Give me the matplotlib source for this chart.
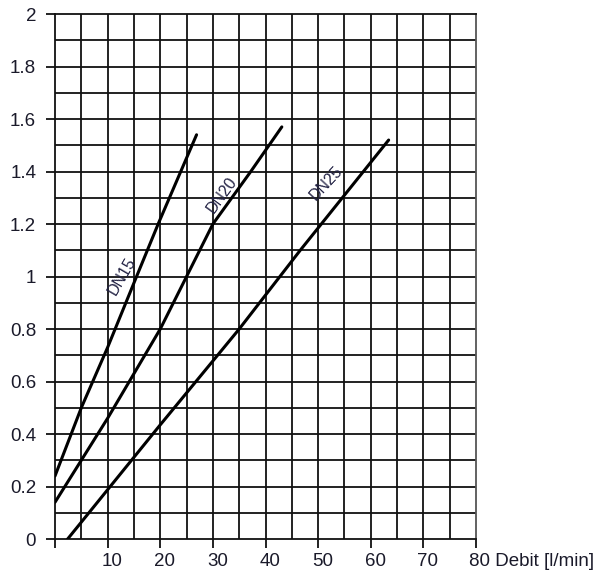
import matplotlib
matplotlib.use("Agg")
import matplotlib.pyplot as plt
import matplotlib.transforms as mtransforms
import numpy as np

plt.rcParams['font.family'] = ['Liberation Sans', 'DejaVu Sans']

# Data
dn15_x = [0, 5, 10, 15.5, 19.6, 26.9]
dn15_y = [0.24, 0.50, 0.73, 1.00, 1.20, 1.54]
dn20_x = [0, 5, 10, 20, 30, 37.2, 43.1]
dn20_y = [0.14, 0.30, 0.46, 0.80, 1.20, 1.40, 1.57]
dn25_x = [2.4, 20, 35, 46.6, 63.4]
dn25_y = [0.0, 0.435, 0.80, 1.10, 1.52]

x_ticks = [0, 10, 20, 30, 40, 50, 60, 70, 80]
x_labels = ['', '10', '20', '30', '40', '50', '60', '70', '80']
y_ticks = [0, 0.2, 0.4, 0.6, 0.8, 1, 1.2, 1.4, 1.6, 1.8, 2]
y_labels = ['0', '0.2', '0.4', '0.6', '0.8', '1', '1.2', '1.4', '1.6', '1.8', '2']
x_unit = 'Debit [l/min]'

fig = plt.figure(figsize=(6.03, 5.73), dpi=100)
ax = fig.add_axes([0.0912, 0.0593, 0.6982, 0.9162])

ax.set_xlim(0, 80)
ax.set_ylim(0, 2)

# grid: vertical every 5, horizontal every 0.1
for gx in np.arange(5, 80, 5):
    ax.axvline(gx, color='#111111', lw=1.3, zorder=1)
for gy in np.arange(0.1, 2.0, 0.1):
    ax.axhline(gy, color='#111111', lw=1.3, zorder=1)

for s in ax.spines.values():
    s.set_color('#111111')
    s.set_linewidth(1.3)
ax.spines['right'].set_color('#555555')

ax.plot(dn15_x, dn15_y, color='black', lw=2.2, zorder=3, solid_capstyle='round')
ax.plot(dn20_x, dn20_y, color='black', lw=2.2, zorder=3, solid_capstyle='round')
ax.plot(dn25_x, dn25_y, color='black', lw=2.2, zorder=3, solid_capstyle='round')

lab_col = '#222244'
ax.text(12.8, 1.0, 'DN15', rotation=60, fontsize=11.5, ha='center', va='center', color=lab_col, zorder=4)
ax.text(31.7, 1.31, 'DN20', rotation=54, fontsize=11.5, ha='center', va='center', color=lab_col, zorder=4)
ax.text(51.6, 1.355, 'DN25', rotation=47, fontsize=11.5, ha='center', va='center', color=lab_col, zorder=4)

x_labels_full = x_labels[:-1] + [x_labels[-1] + ' ' + x_unit]
ax.set_xticks(x_ticks)
ax.set_xticklabels(x_labels_full, fontsize=13.5, color='#1a1a2a')
ax.set_yticks(y_ticks)
ax.set_yticklabels(y_labels, fontsize=13.5, color='#1a1a2a')
ax.tick_params(axis='both', direction='out', length=6.5, width=1.3, color='#111111')
ax.tick_params(axis='y', pad=7)
ax.tick_params(axis='x', pad=3.5)

offset = mtransforms.ScaledTranslation(4.5 / 100, 0, fig.dpi_scale_trans)
last_offset = mtransforms.ScaledTranslation(-7 / 100, 0, fig.dpi_scale_trans)
labs = ax.get_xticklabels()
for lab in labs[:-1]:
    lab.set_transform(lab.get_transform() + offset)
labs[-1].set_transform(labs[-1].get_transform() + last_offset)
labs[-1].set_horizontalalignment('left')

fig.savefig('out.png', dpi=100)
